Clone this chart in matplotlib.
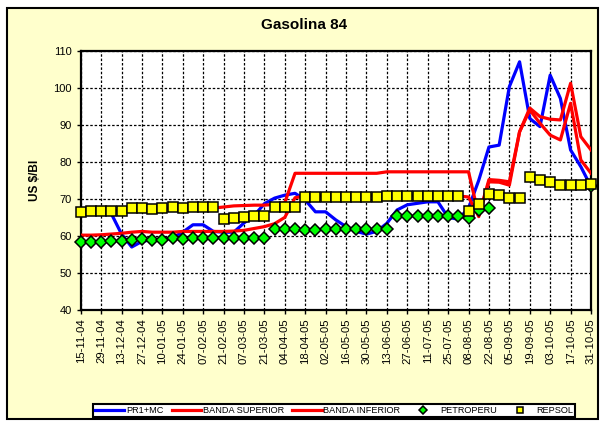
import numpy as np
import matplotlib
matplotlib.use('Agg')
import matplotlib.pyplot as plt
from matplotlib.patches import Rectangle

plt.rcParams['font.family'] = ['Liberation Sans', 'DejaVu Sans']

## tick labels (every second week)
tick_labels = ['15-11-04', '29-11-04', '13-12-04', '27-12-04', '10-01-05', '24-01-05',
               '07-02-05', '21-02-05', '07-03-05', '21-03-05', '04-04-05', '18-04-05',
               '02-05-05', '16-05-05', '30-05-05', '13-06-05', '27-06-05', '11-07-05',
               '25-07-05', '08-08-05', '22-08-05', '05-09-05', '19-09-05', '03-10-05',
               '17-10-05', '31-10-05']

## weekly series, US $/Bl
pr1_mc = [67, 67, 67, 66, 60.5, 57, 58.5, 59, 59, 59.5, 61, 63, 63, 61.2, 61, 61, 63.5,
          65.5, 68.7, 70.2, 71, 71.5, 69.7, 66.5, 66.5, 64.3, 62.5, 61.2, 60.5, 61.2, 63.4,
          67, 68.4, 68.8, 69.2, 69.2, 65, 64.5, 67.5, 75, 84, 84.5, 100.3, 107, 91.7, 89.5,
          103.4, 97.1, 83.2, 78.7, 73.3]
banda_superior = [66.8, 66.8, 66.8, 66.8, 66.8, 67.5, 67.5, 67.5, 67.5, 67.5, 67.5, 67.5, 67.5,
                  67.5, 67.8, 68.1, 68.2, 68.3, 68.3, 68.5, 69, 76.9, 76.9, 76.9, 76.9, 76.9,
                  76.9, 76.9, 76.9, 76.9, 77.3, 77.3, 77.3, 77.3, 77.3, 77.3, 77.3, 77.3, 77.3,
                  65.5, 75.2, 75.0, 74.6, 88.1, 94.5, 92.2, 91.5, 91.3, 101.2, 86.8, 83.2]
banda_inferior = [60.2, 60.2, 60.3, 60.5, 60.7, 61, 61.2, 61, 61, 61, 61.2, 61.2, 61.2, 61.2,
                  61.2, 61.3, 61.5, 62, 62.5, 63.3, 65, 70.3, 70.8, 70.8, 70.8, 70.8, 70.8,
                  70.8, 70.8, 70.8, 70.8, 70.8, 70.8, 70.8, 70.8, 70.8, 70.8, 70.8, 70.5,
                  65.2, 74.6, 74.5, 73.7, 88.1, 94, 90.4, 87.2, 85.9, 95.8, 80.5, 76.9]
petroperu = [58.3, 58.3, 58.3, 58.5, 58.7, 58.9, 59.1, 58.9, 58.9, 59.4, 59.2, 59.4, 59.4,
             59.4, 59.4, 59.4, 59.4, 59.4, 59.4, 61.9, 61.9, 61.9, 61.5, 61.7, 61.9, 61.9,
             61.9, 61.9, 61.9, 61.9, 61.9, 65.3, 65.3, 65.3, 65.3, 65.3, 65.3, 65.3, 64.9,
             67.0, 67.5, np.nan, np.nan, np.nan, np.nan, np.nan, np.nan, np.nan, np.nan,
             np.nan, 73.5]
repsol = [66.5, 66.7, 66.7, 66.8, 66.8, 67.5, 67.4, 67.3, 67.5, 67.9, 67.6, 67.9, 67.9,
          67.9, 64.5, 64.8, 65.1, 65.3, 65.3, 67.7, 67.7, 67.7, 70.5, 70.5, 70.5, 70.5,
          70.5, 70.5, 70.5, 70.5, 70.8, 70.8, 70.8, 70.8, 70.8, 70.8, 70.8, 70.8, 66.6,
          68.5, 71.2, 71.0, 70.3, 70.3, 75.9, 75.2, 74.6, 73.7, 73.7, 73.7, 73.9]

weeks = np.arange(len(pr1_mc))

fig = plt.figure(figsize=(6.04, 4.21), dpi=100)
fig.patch.set_facecolor('white')
# chart area frame
fig.patches.append(Rectangle((7 / 604, 1 - 419 / 421), 591 / 604, 411 / 421,
                             transform=fig.transFigure, facecolor='#FFFFCC',
                             edgecolor='black', linewidth=1.5, zorder=-1))

ax = fig.add_axes([0.1336, 0.2637, 0.8449, 0.6159])
ax.set_facecolor('white')

ax.plot(weeks, pr1_mc, color='#0000FF', lw=2.3, label='PR1+MC', zorder=3)
ax.plot(weeks, banda_superior, color='#FF0000', lw=2.3, label='BANDA SUPERIOR', zorder=3)
ax.plot(weeks, banda_inferior, color='#FF0000', lw=2.3, label='BANDA INFERIOR', zorder=3)
ax.plot(weeks, petroperu, linestyle='none', marker='D', markersize=6.5,
        markerfacecolor='#00FF00', markeredgecolor='black', markeredgewidth=1.1,
        label='PETROPERU', zorder=4, clip_on=False)
ax.plot(weeks, repsol, linestyle='none', marker='s', markersize=7,
        markerfacecolor='#FFFF00', markeredgecolor='black', markeredgewidth=1.1,
        label='REPSOL', zorder=5, clip_on=False)

ax.set_xlim(0, 50)
ax.set_ylim(40, 110)
ax.set_yticks(range(40, 111, 10))
ax.set_xticks(weeks[::2])
ax.set_xticklabels(tick_labels, rotation=90, fontsize=8.2)
ax.tick_params(axis='y', labelsize=8, direction='out', length=3, width=1)
ax.tick_params(axis='x', direction='out', length=3, width=1, pad=3)

ax.grid(True, color='black', linestyle=(0, (2, 1.5)), linewidth=0.9)
ax.set_axisbelow(True)
for sp in ax.spines.values():
    sp.set_linewidth(1.6)
    sp.set_color('black')

ax.set_ylabel('US $/Bl', fontsize=8.5, fontweight='bold', labelpad=9)
fig.text(0.503, 0.94, 'Gasolina 84', ha='center', va='center', fontsize=11, fontweight='bold')

leg = fig.legend(loc='center', bbox_to_anchor=(0.553, 0.0245), ncol=5, fontsize=6.6,
                 frameon=True, fancybox=False, edgecolor='black', facecolor='white',
                 handlelength=3.2, handletextpad=0.2, columnspacing=0.9, borderpad=0.25,
                 markerscale=0.6)
leg.get_frame().set_linewidth(1.5)
leg.get_frame().set_alpha(1)

fig.savefig('out.png', dpi=100, facecolor=fig.get_facecolor())
